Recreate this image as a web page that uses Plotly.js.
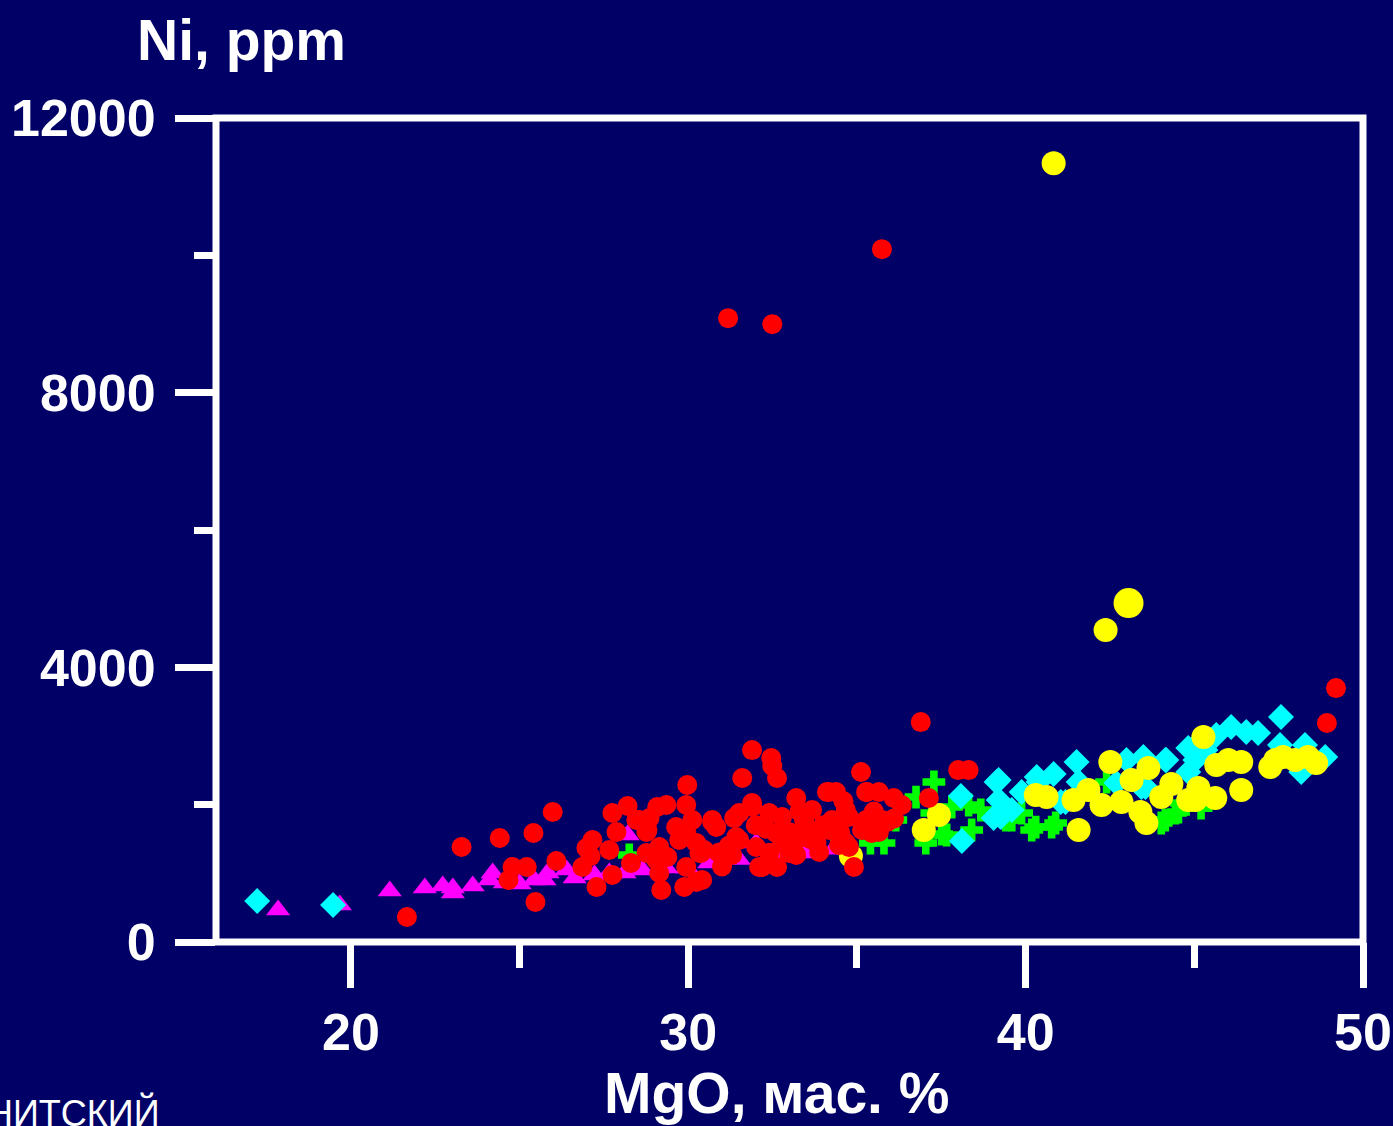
<!DOCTYPE html>
<html>
<head>
<meta charset="utf-8">
<script src="https://cdn.plot.ly/plotly-3.0.1.min.js"></script>
<style>html,body{margin:0;padding:0;background:#000066;}#chart{width:1393px;height:1126px;}</style>
</head>
<body>
<div id="chart"></div>
<script>
// MgO (mass %) vs Ni (ppm)
const magentaMgO = [17.84,19.67,21.15,22.19,22.72,23.02,23.02,23.61,24.11,24.20,24.56,25.00,25.44,25.74,25.83,26.39,26.63,27.22,27.66,28.11,28.20,28.64,29.35,29.97,30.62,31.01,32.01,33.43,31.50,32.60,34.30];
const magentaNi  = [466,539,743,786,815,713,786,815,903,1005,859,845,903,903,1005,1048,932,976,1005,1005,1558,1048,1077,1077,1150,1238,1440,1296,1200,1300,1350];

const greenMgO = [28.25,36.15,36.75,37.28,37.22,37.04,37.51,37.13,37.81,38.31,38.40,38.67,39.59,40.30,40.77,39.88,39.41,40.18,40.89,42.40,44.02,44.44,44.62,44.14,44.53,35.40,35.80,37.66,45.20];
const greenNi  = [1267,1776,2111,2330,1878,1441,1572,1558,1966,1995,1631,1922,1776,1674,1674,1878,1776,1631,1733,2330,1733,1878,2024,1776,1893,1441,1441,1558,1950];

const cyanMgO = [17.22,19.47,38.08,38.11,39.14,39.20,39.05,39.26,39.20,39.88,40.33,40.83,41.51,41.04,41.18,41.57,40.38,42.99,43.49,44.17,43.55,44.82,45.03,46.09,45.65,46.54,46.89,47.57,47.54,48.28,48.88,48.17,45.03,45.33,44.82,42.69,43.43,44.14,39.59,48.40];
const cyanNi  = [597,539,2126,1471,2330,2068,1805,1820,2359,2184,2402,2446,2621,2038,2038,2330,2330,2650,2694,2650,2257,2825,2854,3130,3014,3058,3043,3276,2868,2868,2694,2475,2650,2796,2475,2315,2257,2650,1922,2600];

const yellowMgO = [40.83,43.05,42.37,42.51,40.30,40.62,41.42,41.86,42.25,41.57,42.84,43.14,43.64,43.40,43.58,44.02,44.32,44.82,45.03,45.12,45.27,45.62,45.65,46.01,46.39,46.39,47.25,47.63,47.99,48.37,48.61,36.98,37.43,34.82,34.56,47.40];
const yellowNi  = [11342,4936,4543,2621,2140,2111,2068,2213,1995,1631,2038,2359,2533,1893,1733,2111,2301,2068,2068,2242,2985,2097,2577,2650,2621,2213,2548,2694,2650,2694,2606,1631,1849,1252,1441,2650];

const redMgO = [31.18,32.49,35.74,36.89,49.20,48.93,21.66,25.47,23.28,24.41,25.41,25.98,24.79,25.21,24.67,26.09,26.98,27.16,26.86,27.28,27.75,28.20,27.87,27.75,28.46,28.55,28.76,29.08,29.97,29.94,29.64,30.12,28.76,29.05,29.14,29.20,29.88,30.24,29.94,30.33,30.71,30.83,31.36,31.30,29.35,28.79,27.66,29.73,29.14,28.85,29.38,30.38,30.24,29.94,30.41,30.47,
  31.89,32.46,32.49,32.63,31.60,35.12,30.71,31.89,32.40,33.20,34.11,34.38,35.27,35.65,36.09,36.33,37.13,38.00,38.31,31.51,32.10,32.63,32.99,33.88,33.43,34.26,34.76,34.91,35.44,35.74,32.60,33.28,34.76,35.27,
  35.30,31.89,31.51,33.67,32.78,34.67,35.44,35.65,31.42,32.01,32.78,34.67,32.19,33.20,34.47,33.49,34.17,35.15,34.17,
  33.00,33.60,32.30,34.00,33.30,32.00,34.50,35.50,33.80,32.40,31.20,30.90,31.00,35.90,36.10,34.60,28.30,27.10];
const redNi  = [9085,8998,10090,3203,3698,3189,364,582,1383,1514,1587,1893,1092,1092,903,1179,1369,1485,1092,801,1878,1980,1602,976,1776,1776,1602,1966,2286,1995,1674,1776,1296,1194,1005,757,801,874,1092,1296,1776,1674,1805,1267,1995,1631,1340,1485,1383,1805,1238,1296,1441,1602,903,1340,
  2795,2679,2563,2388,2388,2475,1747,1966,1878,2097,2184,2184,2184,2184,2097,1995,2097,2504,2504,1485,1092,1092,1296,1310,1776,1776,1383,1092,1587,1776,1587,1514,1820,1776,
  2184,2024,1878,1922,1820,1922,1820,1602,1529,1383,1441,1441,1092,1267,1412,1674,1631,1631,2184,
  1600,1500,1650,1700,1900,1700,1600,1900,1450,1300,1400,1300,1100,1750,1800,2050,1150,1250];

const xTicks = [20,30,40,50];
const yTicks = [0,4000,8000,12000];

const BG = '#000066';
const FONT = 'Liberation Sans, Arial, sans-serif';

const traces = [
  {x: magentaMgO, y: magentaNi, type:'scatter', mode:'markers', marker:{symbol:'triangle-up', size:21, color:'#FF00FF', opacity:1, line:{width:0}}},
  {x: greenMgO, y: greenNi, type:'scatter', mode:'markers', marker:{symbol:'cross', size:19, color:'#00FF00', opacity:1, line:{width:0}}},
  {x: cyanMgO, y: cyanNi, type:'scatter', mode:'markers', marker:{symbol:'diamond', size:20, color:'#00FFFF', opacity:1, line:{width:0}}},
  {x: yellowMgO, y: yellowNi, type:'scatter', mode:'markers', marker:{symbol:'circle', size: yellowNi.map((v,i)=> i===1 ? 30 : 24), color:'#FFFF00', opacity:1, line:{width:0}}},
  {x: redMgO, y: redNi, type:'scatter', mode:'markers', marker:{symbol:'circle', size:20, color:'#FF0000', opacity:1, line:{width:0}}}
];

const axisCommon = {
  showline:false,
  ticks:'outside', tickcolor:'white', tickwidth:7,
  showgrid:false, zeroline:false,
  tickfont:{family:FONT, size:52, color:'white', weight:'bold'}
};

const layout = {
  width:1393, height:1126,
  paper_bgcolor:BG, plot_bgcolor:BG,
  showlegend:false,
  margin:{l:216, r:30, t:118, b:184},
  title:{text:'<b>Ni, ppm</b>', font:{family:FONT, size:57, color:'white'}, xref:'container', yref:'container', x:137/1393, xanchor:'left', y:1-40/1126, yanchor:'middle'},
  xaxis: Object.assign({}, axisCommon, {
    range:[16,50], tickmode:'array', tickvals:xTicks, ticktext:xTicks.map(String), ticklen:45,
    minor:{dtick:5, tick0:0, ticks:'outside', ticklen:25, tickwidth:7, tickcolor:'white', showgrid:false}
  }),
  yaxis: Object.assign({}, axisCommon, {
    range:[0,12000], tickmode:'array', tickvals:yTicks, ticktext:yTicks.map(String), ticklen:40,
    ticklabelstandoff:9,
    minor:{dtick:2000, tick0:0, ticks:'outside', ticklen:21, tickwidth:7, tickcolor:'white', showgrid:false}
  }),
  shapes:[
    {type:'rect', xref:'paper', yref:'paper', x0:0, x1:1, y0:0, y1:1, line:{color:'white', width:7}, fillcolor:'rgba(0,0,0,0)', layer:'above'}
  ],
  annotations:[
    {text:'<b>MgO, мас. %</b>', xref:'paper', yref:'paper', x:(776-216)/1147, y:(942-1093)/824, xanchor:'center', yanchor:'middle', showarrow:false, font:{family:FONT, size:57, color:'white'}},
    {text:'НИТСКИЙ', xref:'paper', yref:'paper', x:(162-216)/1147, y:(942-1113)/824, xanchor:'right', yanchor:'middle', showarrow:false, font:{family:FONT, size:36, color:'white'}}
  ]
};

Plotly.newPlot('chart', traces, layout, {displayModeBar:false, staticPlot:true});
</script>
</body>
</html>
